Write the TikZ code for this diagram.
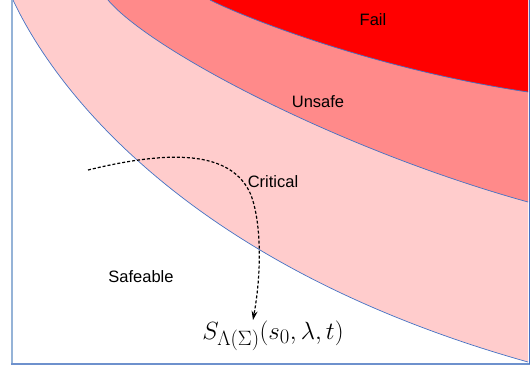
\documentclass[tikz,border=0pt]{standalone}
\usepackage{amsmath,amssymb}
\usepackage{fontspec}
\setmainfont{Liberation Sans}
\usetikzlibrary{arrows.meta,positioning}
\definecolor{failred}{rgb}{1,0,0}
\definecolor{unsafered}{RGB}{255,138,138}
\definecolor{criticalpink}{RGB}{255,204,204}
\definecolor{edgeblue}{RGB}{68,114,196}
\definecolor{framelight}{RGB}{149,179,215}
\definecolor{framedark}{RGB}{110,145,205}

\begin{document}
\begin{tikzpicture}[x=1pt,y=-1pt,
    zone/.style={font=\fontsize{16.5}{19}\selectfont},
    border/.style={edgeblue, line width=0.7pt}]
  \useasboundingbox (0,0) rectangle (530,370);
  \clip (0,0) rectangle (530,370);
  % regions
  \fill[criticalpink] (13,0) .. controls (60,100) and (200,270) .. (528,362) -- (528,0) -- cycle;
  \fill[unsafered] (108,0) .. controls (150,50) and (340,150) .. (528,202) -- (528,0) -- cycle;
  \fill[failred] (210,0) .. controls (250,20) and (380,70) .. (528,92) -- (528,0) -- cycle;
  % boundaries
  \draw[border] (13,0) .. controls (60,100) and (200,270) .. (528,362);
  \draw[border] (108,0) .. controls (150,50) and (340,150) .. (528,202);
  \draw[border] (210,0) .. controls (250,20) and (380,70) .. (528,92);
  % frame
  \draw[framelight, line width=2pt] (12,-5) -- (12,364);
  \draw[framedark, line width=1.5pt] (11,364) -- (530,364);
  \draw[border] (529,-5) -- (529,364);
  % labels
  \node[zone] (fail) at (373,20) {Fail};
  \node[zone] (unsafe) at (318,102) {Unsafe};
  \node[zone] (critical) at (273,182) {Critical};
  \node[zone] (safeable) at (141,277) {Safeable};
  \node[font=\fontsize{27.5}{32}\selectfont, anchor=base] (traj) at (273,339)
    {$S_{\Lambda(\Sigma)}(s_0,\lambda,t)$};
  % trajectory
  \coordinate (start) at (88,170);
  \coordinate (bend) at (251,195);
  \coordinate (tip) at (253,320);
  \draw[-{Stealth[length=9pt,width=6pt]}, line width=1.2pt, dash pattern=on 3pt off 2pt]
    (start) .. controls (170,150) and (232,150) .. (bend)
    .. controls (261,222) and (262,270) .. (tip);
\end{tikzpicture}
\end{document}
